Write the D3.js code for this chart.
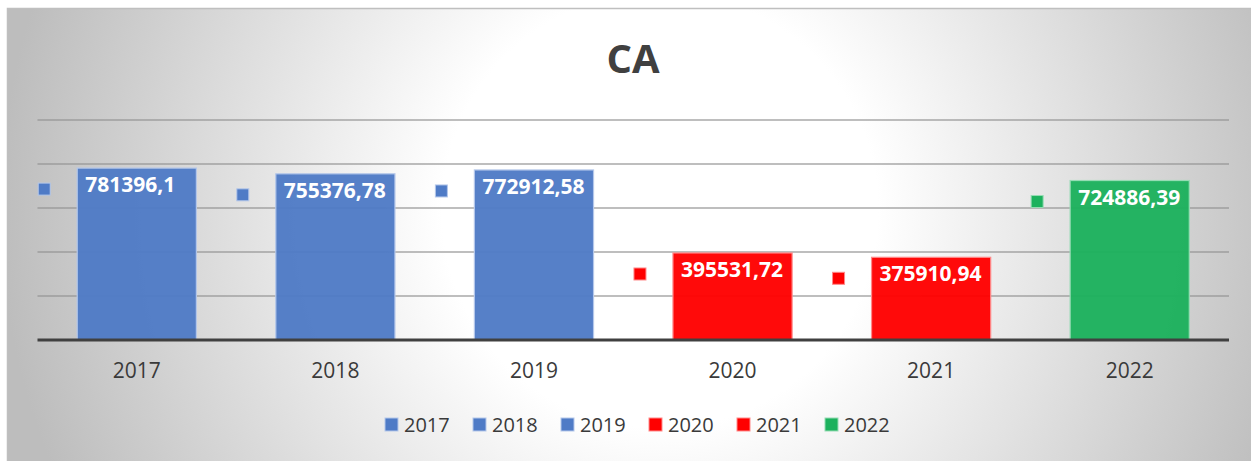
<!DOCTYPE html>
<html>
<head>
<meta charset="utf-8">
<script src="https://cdn.jsdelivr.net/npm/d3@7"></script>
<style>
  body { margin: 0; background: #fff; }
  text { font-family: "Open Sans", sans-serif; }
</style>
</head>
<body>
<svg id="chart" width="1251" height="461"></svg>
<script>
// chart data
const title = 'CA'
const years = ['2017', '2018', '2019', '2020', '2021', '2022']
const revenue = [781396.1, 755376.78, 772912.58, 395531.72, 375910.94, 724886.39]
const gridTicks = [200000, 400000, 600000, 800000, 1000000]

// fill / outline per year
const fill = d3.scaleOrdinal(years, ['#4f7bc6', '#4f7bc6', '#4f7bc6', '#ff0000', '#ff0000', '#1cb15d'])
const edge = d3.scaleOrdinal(years, ['#b4c7ea', '#b4c7ea', '#b4c7ea', '#ff8a8a', '#ff8a8a', '#96dcb4'])

const rows = years.map((y, i) => ({ year: y, value: revenue[i] }))
const fmt = v => String(v).replace('.', ',')

const svg = d3.select('#chart')

// radial background of the chart area
const grad = svg.append('defs').append('radialGradient')
  .attr('id', 'bg')
  .attr('gradientUnits', 'userSpaceOnUse')
  .attr('cx', 660).attr('cy', 210).attr('r', 660)
grad.append('stop').attr('offset', 0).attr('stop-color', '#ffffff')
grad.append('stop').attr('offset', 0.33).attr('stop-color', '#ffffff')
grad.append('stop').attr('offset', 1).attr('stop-color', '#bdbdbd')

svg.append('rect')
  .attr('x', 7.5).attr('y', 8.5)
  .attr('width', 1250).attr('height', 460)
  .attr('fill', 'url(#bg)')
  .attr('stroke', '#bfbfbf')
  .attr('stroke-width', 1.5)

const x = d3.scaleBand()
  .domain(years)
  .range([37.5, 1229])
  .paddingInner(0.4)
  .paddingOuter(0.2)

const y = d3.scaleLinear()
  .domain([0, 1000000])
  .range([340, 120])

// gridlines
svg.append('g')
  .selectAll('line')
  .data(gridTicks)
  .join('line')
  .attr('x1', 37.5).attr('x2', 1229)
  .attr('y1', d => y(d)).attr('y2', d => y(d))
  .attr('stroke', '#949494')
  .attr('stroke-opacity', 0.8)
  .attr('stroke-width', 1.3)

// bars
svg.append('g')
  .selectAll('rect')
  .data(rows)
  .join('rect')
  .attr('x', d => x(d.year))
  .attr('y', d => y(d.value))
  .attr('width', x.bandwidth())
  .attr('height', d => y(0) - y(d.value))
  .attr('fill', d => fill(d.year))
  .attr('fill-opacity', 0.96)
  .attr('stroke', d => edge(d.year))
  .attr('stroke-width', 1.2)

// baseline
svg.append('line')
  .attr('x1', 37.5).attr('x2', 1229)
  .attr('y1', y(0)).attr('y2', y(0))
  .attr('stroke', '#404040')
  .attr('stroke-width', 3)

// data labels with legend key
const labels = svg.append('g')
  .selectAll('g')
  .data(rows)
  .join('g')
  .attr('transform', d => `translate(${x(d.year)},${y(d.value)})`)

labels.append('rect')
  .attr('x', -39).attr('y', 15)
  .attr('width', 12).attr('height', 12)
  .attr('fill', d => fill(d.year))
  .attr('stroke', d => edge(d.year))
  .attr('stroke-width', 1)

labels.append('text')
  .attr('x', 8).attr('y', 24)
  .attr('fill', '#fff')
  .attr('font-size', 21)
  .attr('font-weight', 700)
  .text(d => fmt(d.value))

// category axis
const axis = svg.append('g')
  .attr('transform', `translate(0,${y(0)})`)
  .call(d3.axisBottom(x).tickSize(0).tickPadding(0))
axis.select('.domain').remove()
axis.selectAll('text')
  .attr('dy', null)
  .attr('y', 38)
  .attr('fill', '#3a3a3a')
  .attr('font-size', 21)
  .attr('font-family', '"Open Sans", sans-serif')

// title
svg.append('text')
  .attr('x', 633).attr('y', 73)
  .attr('text-anchor', 'middle')
  .attr('fill', '#404040')
  .attr('font-size', 40)
  .attr('font-weight', 700)
  .text(title)

// legend
const legend = svg.append('g')
  .selectAll('g')
  .data(years)
  .join('g')
  .attr('transform', (d, i) => `translate(${385 + i * 88},418)`)

legend.append('rect')
  .attr('width', 13).attr('height', 13)
  .attr('fill', d => fill(d))
  .attr('stroke', d => edge(d))
  .attr('stroke-width', 1)

legend.append('text')
  .attr('x', 19).attr('y', 14)
  .attr('fill', '#3a3a3a')
  .attr('font-size', 20)
  .text(d => d)
</script>
</body>
</html>
